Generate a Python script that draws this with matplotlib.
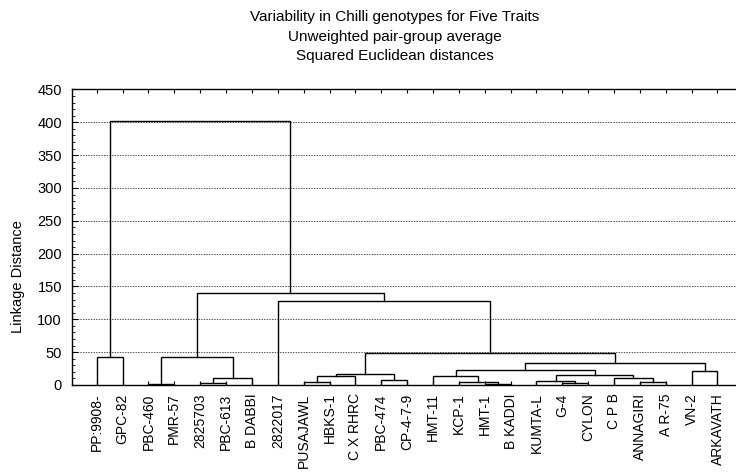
import matplotlib
matplotlib.use("Agg")
import matplotlib.pyplot as plt
from matplotlib.ticker import MultipleLocator

plt.rcParams['font.family'] = ['Liberation Sans', 'DejaVu Sans']

# leaf labels in dendrogram order
labels = ["PP:9908-", "GPC-82", "PBC-460", "PMR-57", "2825703", "PBC-613",
          "B DABBI", "2822017", "PUSAJAWL", "HBKS-1", "C X RHRC", "PBC-474",
          "CP-4-7-9", "HMT-11", "KCP-1", "HMT-1", "B KADDI", "KUMTA-L", "G-4",
          "CYLON", "C P B", "ANNAGIRI", "A R-75", "VN-2", "ARKAVATH"]

# merges like a linkage matrix: ids < 25 are leaves, id 25+k is merge k
merge_a = [15, 2, 4, 18, 14, 21, 8, 17, 11, 20, 27, 31, 13, 32, 36, 23, 37, 41, 0, 26, 39, 7, 44, 43]
merge_b = [16, 3, 5, 19, 25, 22, 9, 28, 12, 30, 6, 10, 29, 34, 33, 24, 38, 40, 1, 35, 42, 45, 46, 47]
heights = [1.0, 1.5, 2.5, 3.0, 4.5, 4.5, 5.0, 6.5, 7.2, 11.2, 11.2, 13.3, 14.2, 15.3,
           17.3, 21.4, 22.5, 33.2, 43.3, 42.4, 48.8, 128.6, 140.8, 402.0]

n = len(labels)
xpos = {i: float(i) for i in range(n)}
ypos = {i: 0.0 for i in range(n)}

fig = plt.figure(figsize=(7.36, 4.75), dpi=100)
ax = fig.add_axes([0.0974, 0.1895, 0.9196, 0.6221])

for k, (a, b, h) in enumerate(zip(merge_a, merge_b, heights)):
    xa, xb = xpos[a], xpos[b]
    ax.plot([xa, xa, xb, xb], [ypos[a], h, h, ypos[b]], color="black", lw=1.0,
            solid_joinstyle="miter", zorder=3)
    xpos[n + k] = (xa + xb) / 2
    ypos[n + k] = h

ax.set_xlim(-0.97, 25.2)
ax.set_ylim(0, 450)
ax.yaxis.set_major_locator(MultipleLocator(50))
ax.yaxis.set_minor_locator(MultipleLocator(10))
ax.set_xticks(range(n))
ax.set_xticklabels(labels, rotation=90, fontsize=10)
ax.tick_params(axis="y", which="major", direction="in", length=4, labelsize=10.5, pad=7)
ax.tick_params(axis="y", which="minor", direction="in", length=2.5)
ax.tick_params(axis="x", direction="in", length=3, top=True, pad=6)
ax.grid(axis="y", which="major", linestyle=(0, (1.5, 1.2)), color="#555555", lw=0.7)
ax.set_axisbelow(True)
for s in ax.spines.values():
    s.set_linewidth(1.0)

fig.text(18 / 736, 1 - 277 / 475, "Linkage Distance", rotation=90,
         ha="center", va="center", fontsize=10.5)

titles = ["Variability in Chilli genotypes for Five Traits",
          "Unweighted pair-group average",
          "Squared Euclidean distances"]
for i, t in enumerate(titles):
    fig.text(395 / 736, 1 - (17 + 19.5 * i) / 475, t, ha="center", va="center", fontsize=11)

fig.savefig("out.png", dpi=100)
